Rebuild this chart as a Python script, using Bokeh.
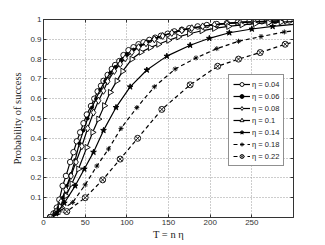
import numpy as np
from bokeh.plotting import figure
from bokeh.models import FixedTicker, LinearAxis, Legend, LegendItem, CustomJSTickFormatter
from bokeh.embed import file_html
from bokeh.resources import INLINE

# ---- data ----
labels = ["η = 0.04", "η = 0.06", "η = 0.08", "η = 0.1", "η = 0.14", "η = 0.18", "η = 0.22"]

c04_x = [8, 12, 16, 19, 23, 27, 32, 36, 40, 44, 48, 52, 57, 61, 65, 69, 72, 77, 82, 86, 91, 96, 102, 108,
         114, 120, 127, 134, 141, 149, 157, 166, 175, 185, 196, 208, 220, 233, 247, 262, 278, 295]
c04_y = [0, 0.02, 0.05, 0.09, 0.16, 0.21, 0.28, 0.33, 0.385, 0.43, 0.476, 0.52, 0.563, 0.60, 0.637, 0.665,
         0.69, 0.72, 0.75, 0.77, 0.79, 0.82, 0.845, 0.86, 0.875, 0.885, 0.897, 0.908, 0.918, 0.928, 0.94,
         0.948, 0.956, 0.965, 0.972, 0.977, 0.981, 0.985, 0.988, 0.991, 0.993, 0.995]

c06_x = [8, 13, 18, 23, 28, 33, 38, 43, 48, 53, 58, 63, 68, 74, 80, 86, 93, 100, 108, 116, 125, 134, 144,
         155, 166, 178, 191, 205, 220, 236, 253, 271, 290]
c06_y = [0, 0.02, 0.05, 0.1, 0.16, 0.22, 0.29, 0.375, 0.44, 0.5, 0.555, 0.6, 0.645, 0.69, 0.73, 0.76,
         0.795, 0.825, 0.848, 0.868, 0.888, 0.905, 0.92, 0.934, 0.946, 0.957, 0.966, 0.974, 0.98, 0.985,
         0.989, 0.992, 0.994]

c08_x = [10, 15, 21, 27, 33, 39, 46, 53, 60, 66, 72, 77, 85, 92, 98, 106, 114, 123, 133, 143, 154, 166,
         178, 191, 205, 220, 236, 253, 271, 290]
c08_y = [0, 0.03, 0.08, 0.14, 0.21, 0.28, 0.36, 0.45, 0.53, 0.59, 0.64, 0.688, 0.74, 0.775, 0.804, 0.835,
         0.86, 0.88, 0.9, 0.917, 0.932, 0.945, 0.956, 0.965, 0.973, 0.979, 0.984, 0.988, 0.991, 0.993]

c10_x = [8, 14, 20, 27, 34, 42, 52, 59, 66, 73, 80, 88, 95, 106, 117, 128, 138, 150, 162, 175, 190, 205,
         222, 238, 254, 270, 285, 300]
c10_y = [0, 0.02, 0.055, 0.11, 0.17, 0.245, 0.354, 0.43, 0.497, 0.565, 0.632, 0.69, 0.739, 0.80, 0.835,
         0.858, 0.875, 0.895, 0.912, 0.928, 0.943, 0.955, 0.965, 0.973, 0.979, 0.984, 0.987, 0.99]

c14_x = [8, 15, 25, 38, 49, 60, 72, 87, 104, 124, 148, 176, 199, 223, 250, 275, 300]
c14_y = [0, 0.02, 0.073, 0.16, 0.245, 0.33, 0.44, 0.556, 0.66, 0.745, 0.815, 0.87, 0.905, 0.933, 0.952,
         0.965, 0.975]

c18_x = [8, 20, 35, 50, 64, 78, 93, 112, 133, 158, 183, 208, 234, 261, 289, 300]
c18_y = [0, 0.034, 0.076, 0.165, 0.26, 0.346, 0.45, 0.555, 0.66, 0.75, 0.806, 0.853, 0.89, 0.914, 0.937,
         0.943]

c22_x = [8, 28, 50, 71, 92, 113, 142, 176, 209, 234, 260, 290, 300]
c22_y = [0, 0.03, 0.1, 0.19, 0.295, 0.40, 0.546, 0.67, 0.764, 0.80, 0.833, 0.875, 0.885]

x_ticks = [0, 50, 100, 150, 200, 250]
y_ticks = [0.1, 0.2, 0.3, 0.4, 0.5, 0.6, 0.7, 0.8, 0.9, 1.0]

# ---- styles ----
styles = [
    dict(dash="solid", marker="circle", size=5.5, fill="white", angle=0),
    dict(dash="solid", marker="circle", size=3, fill="black", angle=0),
    dict(dash="solid", marker="diamond", size=7, fill="white", angle=0),
    dict(dash="solid", marker="triangle", size=6, fill="white", angle=-np.pi / 2),
    dict(dash="solid", marker="star", size=6, fill="black", angle=0),
    dict(dash="4 3", marker="asterisk", size=5, fill="black", angle=0),
    dict(dash="4 3", marker="circle_x", size=6, fill="white", angle=0),
]
curves = [(c04_x, c04_y), (c06_x, c06_y), (c08_x, c08_y), (c10_x, c10_y),
          (c14_x, c14_y), (c18_x, c18_y), (c22_x, c22_y)]

p = figure(width=317, height=243, x_range=(0, 300), y_range=(0, 1),
           output_backend="svg", toolbar_location=None,
           min_border_left=43, min_border_right=24, min_border_top=19, min_border_bottom=26)
p.background_fill_color = "white"
p.border_fill_color = "white"
p.outline_line_color = "#333333"
p.outline_line_width = 1

items = []
for lab, (xs, ys), st in zip(labels, curves, styles):
    r1 = p.line(xs, ys, line_color="black", line_width=1.2, line_dash=st["dash"])
    n = len([x for x in xs if x < 300])
    r2 = p.scatter(xs[:n], ys[:n], marker=st["marker"], size=st["size"], line_color="black",
                   fill_color=st["fill"], line_width=0.9, angle=st["angle"])
    items.append(LegendItem(label=lab, renderers=[r1, r2]))

fmt = CustomJSTickFormatter(code="return String(Math.round(tick*10)/10);")

for ax in p.xaxis:
    ax.ticker = FixedTicker(ticks=x_ticks)
for ax in p.yaxis:
    ax.ticker = FixedTicker(ticks=y_ticks)
    ax.formatter = fmt

for ax in list(p.xaxis) + list(p.yaxis):
    ax.major_tick_in = 3
    ax.major_tick_out = 0
    ax.minor_tick_in = 0
    ax.minor_tick_out = 0
    ax.axis_line_color = "#333333"
    ax.major_tick_line_color = "#333333"
    ax.major_label_text_font = "Liberation Sans"
    ax.major_label_text_font_size = "8px"
    ax.major_label_text_color = "#333333"
    ax.major_label_standoff = 2
    ax.axis_label_text_font = "Liberation Serif"
    ax.axis_label_text_font_style = "normal"
    ax.axis_label_text_font_size = "10.5px"
    ax.axis_label_text_color = "#222222"

p.xaxis.axis_label = "T = n η"
p.yaxis.axis_label = "Probability of success"
p.xaxis.axis_label_standoff = 1
p.yaxis.axis_label_standoff = 4

# top / right axes with inward ticks only
blank = CustomJSTickFormatter(code="return '';")
for side, tk in (("above", x_ticks), ("right", y_ticks)):
    a = LinearAxis(ticker=FixedTicker(ticks=tk), formatter=blank)
    a.major_tick_in = 3
    a.major_tick_out = 0
    a.minor_tick_in = 0
    a.minor_tick_out = 0
    a.major_label_standoff = 0
    a.axis_line_color = "#333333"
    a.major_tick_line_color = "#333333"
    p.add_layout(a, side)

for g in (p.xgrid, p.ygrid):
    g.grid_line_color = "#9a9a9a"
    g.grid_line_dash = "1 2"
    g.grid_line_width = 1
p.xgrid.ticker = FixedTicker(ticks=x_ticks)
p.ygrid.ticker = FixedTicker(ticks=y_ticks)

legend = Legend(items=items, location=(185, 51))
legend.label_text_font = "Liberation Sans"
legend.label_text_font_size = "7.5px"
legend.label_text_color = "#222222"
legend.glyph_width = 17
legend.glyph_height = 10
legend.label_height = 10
legend.label_standoff = 2
legend.spacing = 2
legend.padding = 4
legend.margin = 0
legend.border_line_color = "#222222"
legend.border_line_width = 1
legend.background_fill_color = "white"
legend.background_fill_alpha = 1
p.add_layout(legend, "center")

open("out.html", "w").write(file_html(p, INLINE))
